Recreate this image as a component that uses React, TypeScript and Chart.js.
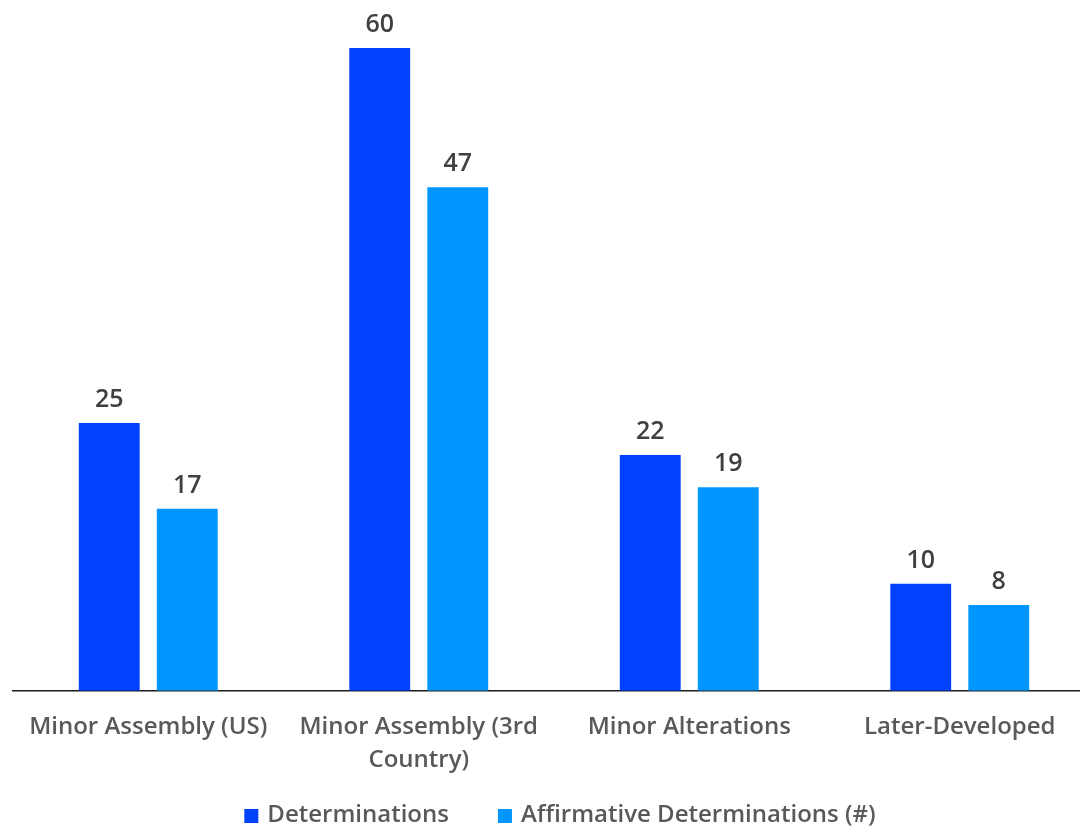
import React, { useEffect, useRef } from "react";
import { Chart, registerables } from "chart.js";

Chart.register(...registerables);

const categories: (string | string[])[] = [
  "Minor Assembly (US)",
  ["Minor Assembly (3rd", "Country)"],
  "Minor Alterations",
  "Later-Developed",
];
const determinations = [25, 60, 22, 10];
const affirmative = [17, 47, 19, 8];
const seriesNames = ["Determinations", "Affirmative Determinations (#)"];
const seriesColors = ["#0042FF", "#0096FF"];

const FONT = "'Open Sans', 'Noto Sans', sans-serif";

const valueLabels = {
  id: "valueLabels",
  afterDatasetsDraw(chart: any) {
    const ctx = chart.ctx;
    ctx.save();
    ctx.font = `600 25px ${FONT}`;
    ctx.fillStyle = "#404040";
    ctx.textAlign = "center";
    ctx.textBaseline = "alphabetic";
    chart.data.datasets.forEach((ds: any, i: number) => {
      const meta = chart.getDatasetMeta(i);
      meta.data.forEach((bar: any, j: number) => {
        ctx.fillText(String(ds.data[j]), bar.x, bar.y - 16);
      });
    });
    ctx.restore();
  },
};

// Legend drawn at the bottom, centered at x=560, text baseline near canvas bottom
const bottomLegend = {
  id: "bottomLegend",
  afterDraw(chart: any) {
    const ctx = chart.ctx;
    ctx.save();
    ctx.font = `600 24px ${FONT}`;
    ctx.textBaseline = "alphabetic";
    ctx.textAlign = "left";
    const box = 14;
    const gapBoxText = 9;
    const gapItems = 49;
    const items = chart.data.datasets.map((ds: any) => ({
      label: ds.label as string,
      color: ds.backgroundColor as string,
      w: ctx.measureText(ds.label).width,
    }));
    const total =
      items.reduce((s: number, it: any) => s + box + gapBoxText + it.w, 0) +
      gapItems * (items.length - 1);
    let x = 560 - total / 2;
    const baseline = chart.height - 5;
    items.forEach((it: any) => {
      ctx.fillStyle = it.color;
      ctx.fillRect(x, baseline - box + 1, box, box);
      x += box + gapBoxText;
      ctx.fillStyle = "#595959";
      ctx.fillText(it.label, x, baseline);
      x += it.w + gapItems;
    });
    ctx.restore();
  },
};

export default function App() {
  const ref = useRef<HTMLCanvasElement>(null);
  useEffect(() => {
    if (!ref.current) return;
    const chart = new Chart(ref.current, {
      type: "bar",
      data: {
        labels: categories,
        datasets: [
          {
            label: seriesNames[0],
            data: determinations,
            backgroundColor: seriesColors[0],
            categoryPercentage: 0.577,
            barPercentage: 0.78,
          },
          {
            label: seriesNames[1],
            data: affirmative,
            backgroundColor: seriesColors[1],
            categoryPercentage: 0.577,
            barPercentage: 0.78,
          },
        ],
      },
      options: {
        responsive: false,
        animation: false,
        layout: { padding: { left: 13, right: 25, top: 48, bottom: 30 } },
        scales: {
          x: {
            grid: { display: false, drawTicks: false },
            border: { display: true, color: "#1a1a1a", width: 1.5 },
            ticks: {
              color: "#595959",
              font: { family: FONT, size: 24, weight: "600" as any, lineHeight: 1.38 },
              padding: 20,
              maxRotation: 0,
              autoSkip: false,
            },
          },
          y: {
            display: false,
            min: 0,
            max: 60,
          },
        },
        plugins: {
          legend: { display: false },
          tooltip: { enabled: false },
        },
      },
      plugins: [valueLabels, bottomLegend],
    });
    return () => chart.destroy();
  }, []);
  return (
    <div style={{ position: "fixed", left: 0, top: 0, width: 1080, height: 827, overflow: "hidden", background: "#fff" }}>
      <canvas ref={ref} width={1120} height={827} style={{ width: 1120, height: 827, display: "block" }} />
    </div>
  );
}
